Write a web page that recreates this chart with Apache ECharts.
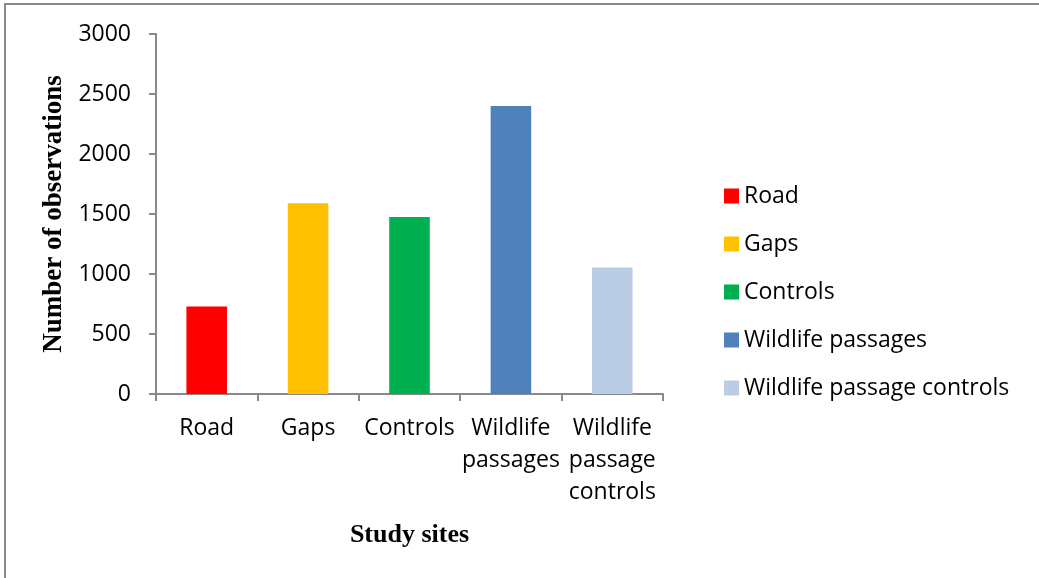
<!DOCTYPE html>
<html>
<head>
<meta charset="utf-8">
<style>
  html, body { margin: 0; padding: 0; background: #fff; }
  #chart { width: 1039px; height: 578px; }
</style>
<script src="https://cdn.jsdelivr.net/npm/echarts@6/dist/echarts.min.js"></script>
</head>
<body>
<div id="chart"></div>
<script>
// Study sites and number of observations at each
const categories = ['Road', 'Gaps', 'Controls', 'Wildlife\npassages', 'Wildlife\npassage\ncontrols'];
const seriesNames = ['Road', 'Gaps', 'Controls', 'Wildlife passages', 'Wildlife passage controls'];
const observations = [730, 1590, 1475, 2400, 1055];
const barColors = ['#FF0000', '#FFC000', '#00B050', '#4F81BD', '#B9CDE5'];
const yTicks = { min: 0, max: 3000, interval: 500 };

const sansFont = '"Open Sans", "Noto Sans", sans-serif';
const serifFont = '"Liberation Serif", "DejaVu Serif", serif';
const axisGray = '#898989';

// One series per site so each appears in the legend; a shared stack keeps bars centred
const series = seriesNames.map((name, i) => ({
  name: name,
  type: 'bar',
  stack: 'sites',
  barWidth: '40%',
  itemStyle: { color: barColors[i] },
  data: observations.map((v, j) => (j === i ? v : '-'))
}));

const chart = echarts.init(document.getElementById('chart'), null, { renderer: 'canvas' });
chart.setOption({
  animation: false,
  backgroundColor: '#fff',
  graphic: [{
    type: 'rect',
    shape: { x: 5, y: 4, width: 1100, height: 700 },
    style: { fill: 'none', stroke: '#8a8a8a', lineWidth: 2 },
    silent: true
  }],
  grid: { left: 156, right: 376, top: 34, bottom: 184, containLabel: false },
  legend: {
    orient: 'vertical',
    left: 724,
    top: 184,
    padding: 0,
    itemWidth: 15,
    itemHeight: 15,
    itemGap: 24,
    icon: 'rect',
    textStyle: { fontFamily: sansFont, fontSize: 23, color: '#000', lineHeight: 24 },
    data: seriesNames
  },
  xAxis: {
    type: 'category',
    data: categories,
    name: 'Study sites',
    nameLocation: 'middle',
    nameGap: 128,
    nameTextStyle: { fontFamily: serifFont, fontSize: 26, fontWeight: 'bold', color: '#000' },
    axisLine: { lineStyle: { color: axisGray, width: 2 } },
    axisTick: { show: true, length: 7, lineStyle: { color: axisGray, width: 2 } },
    axisLabel: {
      interval: 0,
      margin: 18,
      fontFamily: sansFont,
      fontSize: 23,
      lineHeight: 32,
      color: '#000',
      verticalAlign: 'top'
    }
  },
  yAxis: {
    type: 'value',
    min: yTicks.min,
    max: yTicks.max,
    interval: yTicks.interval,
    name: 'Number of observations',
    nameLocation: 'middle',
    nameGap: 88,
    nameRotate: 90,
    nameTextStyle: { fontFamily: serifFont, fontSize: 27, fontWeight: 'bold', color: '#000' },
    splitLine: { show: false },
    axisLine: { show: true, lineStyle: { color: axisGray, width: 2 } },
    axisTick: { show: true, length: 7, lineStyle: { color: axisGray, width: 2 } },
    axisLabel: {
      margin: 25,
      fontFamily: sansFont,
      fontSize: 23,
      color: '#000',
      formatter: (v) => String(v)
    }
  },
  series: series
});
</script>
</body>
</html>
